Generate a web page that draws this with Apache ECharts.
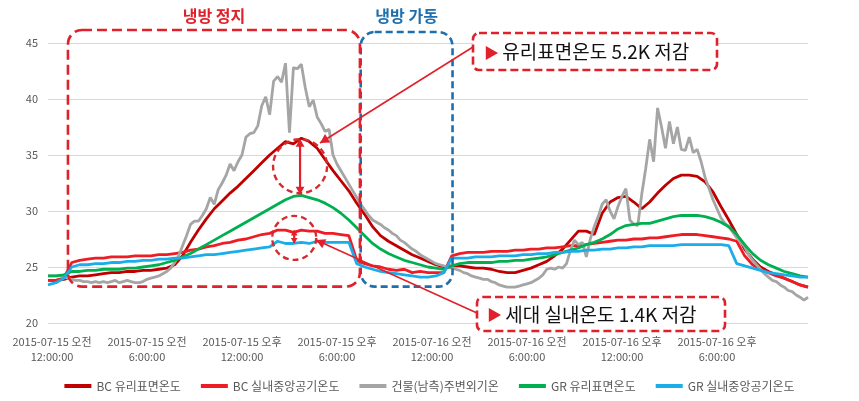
<!DOCTYPE html>
<html><head><meta charset="utf-8">
<script src="https://cdn.jsdelivr.net/npm/echarts@6/dist/echarts.min.js"></script>
<style>html,body{margin:0;padding:0;background:#fff}#c{width:859px;height:401px}</style>
</head><body><div id="c"></div>
<script>
const FONT = '"Noto Sans CJK KR", "Noto Sans", sans-serif';

const seriesNames = ['BC 유리표면온도', 'BC 실내중앙공기온도', '건물(남측)주변외기온', 'GR 유리표면온도', 'GR 실내중앙공기온도'];
const seriesColors = ['#C00000', '#EE1C25', '#A5A5A5', '#00B050', '#1AADE8'];
const xTickLabels = ['2015-07-15 오전\n12:00:00', '2015-07-15 오전\n6:00:00', '2015-07-15 오후\n12:00:00', '2015-07-15 오후\n6:00:00',
                     '2015-07-16 오전\n12:00:00', '2015-07-16 오전\n6:00:00', '2015-07-16 오후\n12:00:00', '2015-07-16 오후\n6:00:00'];

// half-hour samples, hours 0..48
const bcGlass = [23.8,23.8,23.9,24.1,24.2,24.2,24.3,24.4,24.5,24.5,24.6,24.6,24.7,24.7,24.8,24.9,25.2,26.0,27.2,28.3,
  29.3,30.2,30.9,31.6,32.2,32.9,33.6,34.3,35.0,35.6,36.2,36.0,36.5,36.2,35.6,34.6,33.6,32.7,31.8,30.7,
  29.7,28.6,27.8,27.3,26.9,26.5,26.1,25.8,25.5,25.2,25.0,25.1,25.1,25.0,24.9,24.9,24.8,24.6,24.5,24.5,
  24.7,24.9,25.2,25.5,26.0,26.6,27.4,28.2,28.2,27.9,29.8,30.8,31.2,31.3,30.8,30.2,30.8,31.6,32.3,32.9,
  33.2,33.2,33.1,32.6,31.7,30.4,29.2,27.9,26.6,25.7,25.0,24.6,24.3,24.0,23.7,23.4,23.2];
const bcAir = [23.8,23.8,24.0,25.4,25.6,25.7,25.8,25.8,25.9,25.9,25.9,26.0,26.0,26.0,26.1,26.1,26.2,26.3,26.5,26.6,
  26.8,26.9,27.1,27.2,27.4,27.5,27.7,27.9,28.0,28.3,28.3,28.1,28.3,28.2,28.2,28.0,28.0,27.9,27.8,25.6,
  25.3,25.1,25.0,24.8,24.7,24.8,24.5,24.6,24.5,24.5,24.5,26.0,26.2,26.3,26.3,26.3,26.4,26.4,26.4,26.5,
  26.5,26.6,26.6,26.7,26.7,26.8,26.9,26.9,27.0,27.1,27.2,27.3,27.4,27.4,27.5,27.5,27.6,27.6,27.7,27.8,
  27.9,27.9,27.9,27.8,27.7,27.6,27.5,27.3,26.0,25.2,24.8,24.5,24.2,24.0,23.7,23.4,23.2];
const grGlass = [24.2,24.2,24.3,24.6,24.6,24.7,24.7,24.8,24.8,24.8,24.9,24.9,25.0,25.1,25.2,25.4,25.6,25.9,26.2,26.6,
  27.0,27.4,27.8,28.2,28.6,29.0,29.4,29.8,30.2,30.6,31.0,31.3,31.4,31.2,31.0,30.7,30.3,29.8,29.2,28.5,
  27.8,27.1,26.6,26.2,25.9,25.6,25.4,25.2,25.0,24.9,24.8,25.1,25.3,25.4,25.4,25.4,25.4,25.5,25.5,25.6,
  25.6,25.7,25.8,25.9,26.1,26.3,26.5,26.7,27.0,27.2,27.5,27.9,28.4,28.7,28.8,28.9,28.9,29.1,29.3,29.5,
  29.6,29.6,29.6,29.5,29.3,29.0,28.6,27.9,27.0,26.2,25.6,25.2,24.9,24.6,24.4,24.2,24.1];
const grAir = [23.4,23.6,24.0,25.0,25.2,25.2,25.3,25.3,25.4,25.4,25.5,25.5,25.6,25.6,25.7,25.7,25.8,25.8,25.9,26.0,
  26.1,26.1,26.2,26.3,26.4,26.5,26.6,26.7,26.8,27.3,27.1,27.1,27.2,27.1,27.3,27.2,27.2,27.2,27.2,25.3,
  25.0,24.8,24.6,24.5,24.4,24.3,24.2,24.1,24.1,24.2,24.5,25.8,25.8,25.8,25.9,25.9,25.9,26.0,26.0,26.0,
  26.1,26.1,26.2,26.2,26.3,26.3,26.4,26.4,26.5,26.5,26.6,26.6,26.7,26.7,26.8,26.8,26.9,26.9,26.9,26.9,
  27.0,27.0,27.0,27.0,27.0,27.0,26.9,25.3,25.1,24.9,24.7,24.5,24.4,24.3,24.2,24.1,24.1];
// quarter-hour samples, hours 0..48
const outdoor = [24.2,24.2,24.2,24.2,24.1,24.0,23.9,23.8,23.8,23.7,23.7,23.6,23.7,23.6,23.7,23.6,23.7,23.8,23.6,23.7,
  23.8,23.7,23.6,23.6,23.7,23.9,24.0,24.1,24.2,24.4,24.6,24.9,25.4,26.0,26.9,27.8,28.8,29.1,29.1,29.6,
  30.2,31.2,30.6,31.9,32.5,33.2,34.2,33.6,34.4,35.0,36.6,36.9,37.0,37.6,39.4,40.2,38.6,41.6,42.0,41.5,
  43.2,37.0,42.8,42.7,43.1,41.0,39.3,39.9,38.4,37.8,37.1,37.3,35.0,34.2,33.6,33.0,32.4,31.8,31.2,30.6,
  30.1,29.6,29.2,29.0,28.8,28.5,28.3,28.0,27.8,27.4,27.2,26.9,26.6,26.4,26.1,25.9,25.7,25.5,25.3,25.2,
  25.1,25.0,24.9,24.8,24.7,24.5,24.4,24.2,24.1,24.0,23.9,23.9,23.7,23.6,23.4,23.3,23.2,23.2,23.2,23.3,
  23.4,23.5,23.6,23.8,24.0,24.3,24.8,24.9,24.8,25.0,24.9,25.3,26.5,27.4,27.0,27.2,25.9,27.5,28.6,29.5,
  30.6,31.0,30.0,29.3,30.4,31.3,32.0,29.2,28.8,28.7,31.5,33.8,36.4,34.4,39.2,37.5,35.6,38.0,36.0,37.5,
  35.5,35.4,36.6,35.2,35.5,34.4,33.0,32.0,31.0,30.2,29.4,28.9,28.6,28.1,27.6,27.2,26.8,26.1,25.6,25.2,
  24.8,24.4,24.1,23.8,23.7,23.4,23.2,22.9,22.8,22.5,22.3,22.05,22.3];

const pair = (arr, step) => arr.map((v, i) => [i * step, v]);
const seriesData = [pair(bcGlass, 0.5), pair(bcAir, 0.5), pair(outdoor, 0.25), pair(grGlass, 0.5), pair(grAir, 0.5)];

const chart = echarts.init(document.getElementById('c'), null, {renderer: 'canvas'});
chart.setOption({
  animation: false,
  backgroundColor: '#fff',
  textStyle: {fontFamily: FONT},
  grid: {left: 48, right: 51, top: 43, bottom: 78, containLabel: false},
  xAxis: {
    type: 'value', min: 0, max: 48, interval: 6,
    axisLine: {show: false}, axisTick: {show: false}, splitLine: {show: false},
    axisLabel: {
      showMinLabel: true, showMaxLabel: false,
      formatter: v => { const i = Math.round(v / 6); return i < xTickLabels.length ? xTickLabels[i] : ''; },
      color: '#595959', fontSize: 11, lineHeight: 15, margin: 11, padding: [0, 0, 0, 8], fontFamily: FONT
    }
  },
  yAxis: {
    type: 'value', min: 20, max: 45, interval: 5,
    axisLine: {show: false}, axisTick: {show: false},
    splitLine: {lineStyle: {color: '#D9D9D9', width: 1}},
    axisLabel: {color: '#595959', fontSize: 11, margin: 10, fontFamily: FONT}
  },
  legend: {
    top: 375, left: 'center', icon: 'rect', itemWidth: 27, itemHeight: 4, itemGap: 20,
    textStyle: {color: '#595959', fontSize: 12, fontFamily: FONT},
    data: seriesNames
  },
  series: seriesNames.map((n, i) => ({
    name: n, type: 'line', data: seriesData[i], showSymbol: false, symbol: 'none',
    lineStyle: {color: seriesColors[i], width: 2.8}, itemStyle: {color: seriesColors[i]}, z: 2 + i
  }))
});

function px(h, v) { return chart.convertToPixel({gridIndex: 0}, [h, v]); }
function arrowHead(tip, from, size, color) {
  const dx = tip[0] - from[0], dy = tip[1] - from[1];
  const L = Math.hypot(dx, dy), ux = dx / L, uy = dy / L;
  const bx = tip[0] - ux * size, by = tip[1] - uy * size;
  const w = size * 0.55;
  return {type: 'polygon', z: 120, shape: {points: [tip, [bx - uy * w, by + ux * w], [bx + uy * w, by - ux * w]]},
          style: {fill: color}};
}
const RED = '#E0202A', DRED = '#D42A30', BLUE = '#1E6FAE';

const g = [];
const r1 = px(1.26, 46.16), r2 = px(19.7, 23.25);
g.push({type: 'rect', z: 100, shape: {x: r1[0], y: r1[1], width: r2[0] - r1[0], height: r2[1] - r1[1], r: 14},
        style: {fill: null, stroke: RED, lineWidth: 2.6, lineDash: [10, 5]}});
const b1 = px(19.75, 45.98), b2 = px(25.55, 23.25);
g.push({type: 'rect', z: 99, shape: {x: b1[0], y: b1[1], width: b2[0] - b1[0], height: b2[1] - b1[1], r: 14},
        style: {fill: null, stroke: BLUE, lineWidth: 2.6, lineDash: [7, 4]}});
g.push({type: 'text', z: 110, style: {text: '냉방 정지', x: (r1[0] + r2[0]) / 2, y: 16, align: 'center', verticalAlign: 'middle',
        fill: RED, font: 'bold 16px ' + FONT}});
g.push({type: 'text', z: 110, style: {text: '냉방 가동', x: (b1[0] + b2[0]) / 2, y: 16, align: 'center', verticalAlign: 'middle',
        fill: BLUE, font: 'bold 16px ' + FONT}});
const c1 = px(15.92, 34.0), c2 = px(15.55, 27.6);
g.push({type: 'circle', z: 105, shape: {cx: c1[0], cy: c1[1], r: 27}, style: {fill: null, stroke: DRED, lineWidth: 2.4, lineDash: [6, 4]}});
g.push({type: 'circle', z: 105, shape: {cx: c2[0], cy: c2[1], r: 22}, style: {fill: null, stroke: DRED, lineWidth: 2.4, lineDash: [6, 4]}});
const a1t = px(15.92, 36.45), a1b = px(15.92, 31.45);
g.push({type: 'line', z: 115, shape: {x1: a1t[0], y1: a1t[1] + 5, x2: a1b[0], y2: a1b[1] - 5}, style: {stroke: RED, lineWidth: 2.2}});
g.push(arrowHead(a1t, a1b, 8, RED)); g.push(arrowHead(a1b, a1t, 8, RED));
const a2t = px(15.55, 28.35), a2b = px(15.55, 27.05);
g.push({type: 'line', z: 115, shape: {x1: a2t[0], y1: a2t[1] + 4, x2: a2b[0], y2: a2b[1] - 4}, style: {stroke: RED, lineWidth: 2.2}});
g.push(arrowHead(a2t, a2b, 6, RED)); g.push(arrowHead(a2b, a2t, 6, RED));
const p1s = [473, 47], p1e = px(17.18, 36.07);
g.push({type: 'line', z: 108, shape: {x1: p1s[0], y1: p1s[1], x2: p1e[0], y2: p1e[1]}, style: {stroke: RED, lineWidth: 1.6}});
g.push(arrowHead(p1e, p1s, 9, RED));
const p2s = [477, 313], p2e = px(16.93, 27.41);
g.push({type: 'line', z: 108, shape: {x1: p2s[0], y1: p2s[1], x2: p2e[0], y2: p2e[1]}, style: {stroke: RED, lineWidth: 1.6}});
g.push(arrowHead(p2e, p2s, 9, RED));
g.push({type: 'rect', z: 111, shape: {x: 473, y: 33, width: 244, height: 37, r: 6},
        style: {fill: '#fff', stroke: RED, lineWidth: 2.6, lineDash: [8, 4]}});
g.push({type: 'text', z: 112, style: {x: 484, y: 52, verticalAlign: 'middle',
        text: '{t|▶} {s|유리표면온도 5.2K 저감}',
        rich: {t: {fill: RED, fontSize: 15, fontFamily: FONT}, s: {fill: '#111', fontSize: 19, fontFamily: FONT}}}});
g.push({type: 'rect', z: 111, shape: {x: 477, y: 297, width: 248, height: 34, r: 6},
        style: {fill: '#fff', stroke: RED, lineWidth: 2.6, lineDash: [8, 4]}});
g.push({type: 'text', z: 112, style: {x: 487, y: 314.5, verticalAlign: 'middle',
        text: '{t|▶} {s|세대 실내온도 1.4K 저감}',
        rich: {t: {fill: RED, fontSize: 15, fontFamily: FONT}, s: {fill: '#111', fontSize: 19, fontFamily: FONT}}}});
chart.setOption({graphic: g});
</script></body></html>
